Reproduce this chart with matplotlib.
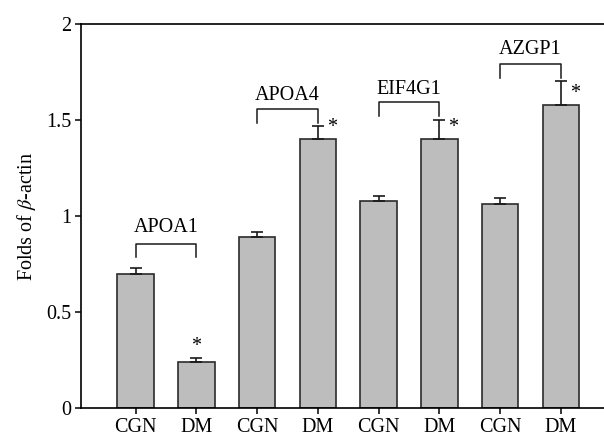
import matplotlib
matplotlib.use("Agg")
import matplotlib.pyplot as plt

plt.rcParams['font.family'] = ['Liberation Serif', 'DejaVu Serif']
plt.rcParams['mathtext.fontset'] = 'stix'

labels = ["CGN", "DM", "CGN", "DM", "CGN", "DM", "CGN", "DM"]
values = [0.70, 0.24, 0.89, 1.40, 1.08, 1.40, 1.06, 1.58]
errors = [0.03, 0.02, 0.024, 0.066, 0.025, 0.10, 0.033, 0.12]
genes = ["APOA1", "APOA4", "EIF4G1", "AZGP1"]
bracket_top = [0.852, 1.556, 1.592, 1.79]
bracket_leg = [0.785, 1.486, 1.519, 1.72]
gene_text_y = [0.94, 1.625, 1.66, 1.865]

fs = 14.5

fig = plt.figure(figsize=(6.04, 4.37), dpi=100)
ax = fig.add_axes([0.134, 0.0664, 0.866, 0.879])

x = list(range(len(values)))
ax.bar(x, values, width=0.6, color="#bdbdbd", edgecolor="#2b2b2b", linewidth=1.2, zorder=2)
ax.errorbar(x, values, yerr=[[0] * len(errors), errors], fmt="none",
            ecolor="#1a1a1a", elinewidth=1.2, capsize=4, capthick=1.2, zorder=3)

# brackets over each CGN/DM pair
for i, g in enumerate(genes):
    x0, x1 = 2 * i, 2 * i + 1
    ax.plot([x0, x0, x1, x1], [bracket_leg[i], bracket_top[i], bracket_top[i], bracket_leg[i]],
            color="#1a1a1a", lw=1.1)
    ax.text((x0 + x1) / 2, gene_text_y[i], g, ha="center", va="center", fontsize=fs)

# significance stars
ax.text(1, values[1] + errors[1] + 0.01, "*", ha="center", va="bottom", fontsize=fs)
for i in [3, 5, 7]:
    ax.text(i + 0.23, values[i] + 0.01, "*", ha="center", va="bottom", fontsize=fs)

ax.set_xlim(-0.9, 7.71)
ax.set_ylim(0, 2)
ax.set_xticks(x)
ax.set_xticklabels(labels)
ax.set_yticks([0, 0.5, 1, 1.5, 2])
ax.set_yticklabels(["0", "0.5", "1", "1.5", "2"])
ax.tick_params(direction="out", length=4, width=1.1, labelsize=fs, pad=3)
ax.spines["right"].set_visible(False)
for s in ["left", "bottom", "top"]:
    ax.spines[s].set_linewidth(1.2)
ax.set_ylabel(r"Folds of $\beta$-actin", fontsize=fs, labelpad=6)

fig.savefig("out.png", dpi=100)
